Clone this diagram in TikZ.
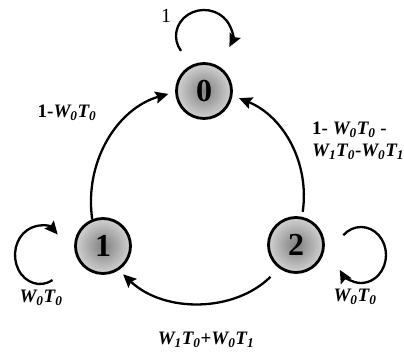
\documentclass[tikz,border=0pt]{standalone}
\usepackage{fontspec}
\setmainfont{Liberation Serif}
\usetikzlibrary{arrows.meta,calc}
\newcommand\wtx[2]{\textit{W\textsubscript{#1}T\textsubscript{#2}}}
\begin{document}
\begin{tikzpicture}[x=1pt,y=1pt,
  state/.style={circle, draw, line width=2.8pt, minimum size=55pt, inner sep=0pt,
    shading=radial, inner color=black!50, outer color=black!18,
    font=\fontsize{32}{32}\selectfont\bfseries},
  edge/.style={line width=2.3pt, -{Stealth[length=13pt,width=12pt,inset=2pt]}},
  lbl/.style={font=\fontsize{19}{22}\selectfont\bfseries, inner sep=0pt}]
\useasboundingbox (0,0) rectangle (404,355);
\node[state] (n0) at (204,264) {0};
\node[state] (n1) at (103,109) {1};
\node[state] (n2) at (296,110) {2};
% arcs between states
\draw[edge, shorten >=7pt] (n1.112) to[bend left=41] (n0.182);
\draw[edge, shorten <=5pt, shorten >=7pt] (n2.78) to[bend right=38] (n0.-9.5);
\draw[edge, shorten <=12pt, shorten >=6pt] (n2.234) to[bend left=44] (n1.-57);
% self loops
\coordinate (c0) at ($(n0)+(0,55)$);
\coordinate (c1) at ($(n1)+(-63,-9)$);
\coordinate (c2) at ($(n2)+(65,-10)$);
\draw[edge] ($(c0)+(215:28 and 26)$) arc[start angle=215, end angle=-25, x radius=28, y radius=26];
\draw[edge] ($(c1)+(-60:25 and 29)$) arc[start angle=-60, end angle=-315, x radius=25, y radius=29];
\draw[edge] ($(c2)+(135:25 and 28)$) arc[start angle=135, end angle=-148, x radius=25, y radius=28];
% labels
\node[lbl, font=\fontsize{20}{20}\selectfont] (l0) at (166,339) {1};
\node[lbl] (la) at (67,242) {1-\wtx00};
\node[lbl, align=left, anchor=west] (lb) at (312,214) {1- \wtx00 -\\\wtx10-\wtx01};
\node[lbl] (lc) at (206,15) {\wtx10+\wtx01};
\node[lbl] (ld) at (41,57) {\wtx00};
\node[lbl] (le) at (355,58) {\wtx00};
\end{tikzpicture}
\end{document}
